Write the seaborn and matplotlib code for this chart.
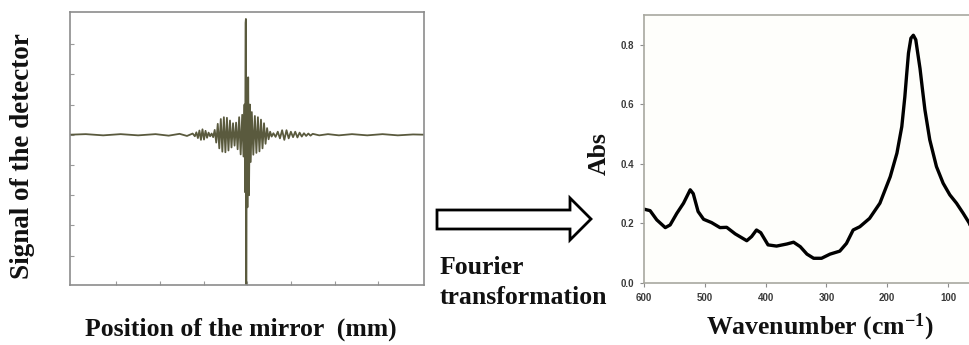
import matplotlib
matplotlib.use("Agg")
import matplotlib.pyplot as plt
from matplotlib.patches import Polygon
import seaborn as sns
import pandas as pd

# ---------------- data ----------------
# Interferogram (left panel): mirror position (arb. units) vs detector signal (arb. units)
mirror_pos = [
    -4.10, -3.70, -3.30, -2.90, -2.50, -2.10, -1.80, -1.55, -1.38, -1.25,
    -1.200, -1.165, -1.130, -1.095, -1.060, -1.025, -0.990, -0.955, -0.920, -0.885, -0.850, -0.815,
    -0.780, -0.745, -0.710, -0.675, -0.640, -0.605, -0.570, -0.535, -0.500, -0.465, -0.430, -0.395,
    -0.360, -0.325, -0.290, -0.255, -0.220, -0.185,
    -0.150, -0.115, -0.085, -0.062, -0.048, -0.038, -0.030, -0.022, -0.010, 0.005, 0.022, 0.040,
    0.060, 0.080, 0.105,
    0.140, 0.175, 0.210, 0.245, 0.280, 0.315, 0.350, 0.385, 0.420, 0.455, 0.490, 0.525, 0.560,
    0.600, 0.650, 0.700, 0.750, 0.800, 0.850, 0.900, 0.950, 1.000, 1.050, 1.100, 1.150, 1.200,
    1.250, 1.300, 1.350, 1.400, 1.450, 1.500,
    1.65, 1.85, 2.10, 2.40, 2.75, 3.10, 3.45, 3.80, 4.10,
]
detector_signal = [
    0.00, 0.02, -0.02, 0.02, -0.02, 0.02, -0.03, 0.03, -0.04, 0.04,
    -0.05, 0.08, -0.11, 0.14, -0.17, 0.18, -0.16, 0.13, -0.10, 0.07, -0.05, 0.04,
    -0.08, 0.16, -0.26, 0.36, -0.45, 0.52, -0.56, 0.58, -0.58, 0.56, -0.52, 0.47,
    -0.42, 0.38, -0.36, 0.40, -0.48, 0.58,
    -0.65, 0.66, -0.72, 1.00, -1.90, 3.70, 3.83, -4.95, 0.90, -2.40, 1.90, -2.00,
    1.00, -0.90, 0.75,
    -0.66, 0.62, -0.60, 0.58, -0.55, 0.50, -0.45, 0.38, -0.30, 0.22, -0.15, 0.10, -0.06,
    0.05, -0.07, 0.10, -0.12, 0.15, -0.17, 0.15, -0.12, 0.10, -0.08, 0.10, -0.09, 0.07,
    -0.06, 0.05, -0.04, 0.04, -0.03, 0.03,
    -0.02, 0.02, -0.02, 0.02, -0.02, 0.02, -0.02, 0.01, 0.00,
]

# Spectrum (right panel): wavenumber (cm-1) vs absorbance
wavenumber = [
    600, 590, 579, 565, 557, 546, 535, 524, 519, 511, 502, 489, 475, 464, 450, 431, 423,
    415, 408, 396, 382, 365, 354, 343, 332, 321, 308, 294, 278, 267, 256, 245, 229, 212,
    195, 184, 176, 171, 168, 165, 161, 157, 153, 150, 146, 142, 138, 130, 119, 108, 97,
    86, 75, 65, 62,
]
absorbance = [
    0.248, 0.243, 0.212, 0.186, 0.195, 0.234, 0.268, 0.313, 0.300, 0.240, 0.214, 0.203, 0.186,
    0.187, 0.165, 0.142, 0.156, 0.178, 0.169, 0.128, 0.124, 0.131, 0.137, 0.122, 0.097, 0.083,
    0.083, 0.097, 0.107, 0.133, 0.178, 0.189, 0.217, 0.268, 0.357, 0.436, 0.525, 0.625, 0.700,
    0.772, 0.822, 0.832, 0.817, 0.775, 0.720, 0.650, 0.582, 0.481, 0.391, 0.335, 0.296, 0.268,
    0.234, 0.201, 0.185,
]

interf = pd.DataFrame({"pos": mirror_pos, "signal": detector_signal})
spec = pd.DataFrame({"wn": wavenumber, "abs": absorbance})

# ---------------- figure ----------------
sns.set_theme(style="white")
plt.rcParams["font.family"] = ["Liberation Serif", "DejaVu Serif"]
plt.rcParams["text.color"] = "#111111"
plt.rcParams["mathtext.fontset"] = "custom"
plt.rcParams["mathtext.rm"] = "Liberation Serif:bold"
plt.rcParams["mathtext.bf"] = "Liberation Serif:bold"
plt.rcParams["mathtext.default"] = "bf"

W, H = 969, 345
fig = plt.figure(figsize=(W / 100, H / 100), dpi=100)
fig.patch.set_facecolor("white")


def fx(px):
    return px / W


def fy(py):
    return 1 - py / H


# Left axes: interferogram
axL = fig.add_axes([fx(70), fy(285), fx(424) - fx(70), fy(12) - fy(285)])
sns.lineplot(data=interf, x="pos", y="signal", ax=axL, color="#5a5a3e",
             linewidth=1.3, estimator=None, sort=False)
axL.set_xlim(-4.06, 4.05)
axL.set_ylim(-4.97, 4.06)
axL.set_xticks([-3, -2, -1, 0, 1, 2, 3])
axL.set_yticks([-4, -3, -2, -1, 0, 1, 2, 3])
axL.set_xticklabels([])
axL.set_yticklabels([])
axL.tick_params(axis="both", direction="in", length=3, width=0.8, colors="#9a9a9a",
                bottom=True, left=True)
axL.set_xlabel("")
axL.set_ylabel("")
for s in axL.spines.values():
    s.set_color("#8c8c8c")
    s.set_linewidth(1.2)
axL.set_facecolor("white")

# Right axes: spectrum (extends slightly beyond the cropped figure edge)
x0, x1 = 644, 644 + 550 * 0.608
axR = fig.add_axes([fx(x0), fy(283), fx(x1) - fx(x0), fy(15) - fy(283)])
sns.lineplot(data=spec, x="wn", y="abs", ax=axR, color="black", linewidth=2.4,
             estimator=None, sort=False)
axR.set_xlim(600, 50)
axR.set_ylim(0, 0.9)
axR.set_xticks([600, 500, 400, 300, 200, 100])
axR.set_xticklabels(["600", "500", "400", "300", "200", "100"])
axR.set_yticks([0.0, 0.2, 0.4, 0.6, 0.8])
axR.set_yticklabels(["0.0", "0.2", "0.4", "0.6", "0.8"])
axR.tick_params(axis="both", direction="out", length=3, width=0.8, colors="#8c8c8c",
                labelcolor="#3a3a3a", labelsize=7, bottom=True, left=True, pad=4)
for lab in axR.get_xticklabels() + axR.get_yticklabels():
    lab.set_family(["Liberation Sans", "DejaVu Sans"])
    lab.set_fontweight("bold")
axR.set_xlabel("")
axR.set_ylabel("")
for s in axR.spines.values():
    s.set_color("#a8a8a0")
    s.set_linewidth(1.2)
axR.set_facecolor("#fefefb")

# Labels
fs = 18.5
fig.text(fx(23), fy(156), "Signal of the detector", rotation=90, ha="center", va="center",
         fontsize=19.5, fontweight="bold")
fig.text(fx(241), fy(329), "Position of the mirror  (mm)", ha="center", va="center",
         fontsize=fs, fontweight="bold")
fig.text(fx(599), fy(154), "Abs", rotation=90, ha="center", va="center",
         fontsize=fs, fontweight="bold")
fig.text(fx(820), fy(327), r"Wavenumber (cm$^{-1}$)", ha="center", va="center",
         fontsize=fs, fontweight="bold")
fig.text(fx(440), fy(267), "Fourier", ha="left", va="center", fontsize=fs, fontweight="bold")
fig.text(fx(440), fy(297), "transformation", ha="left", va="center", fontsize=fs,
         fontweight="bold")

# Hollow arrow
arrow_px = [(437, 210), (570, 210), (570, 198), (591, 219), (570, 240), (570, 229), (437, 229)]
arrow = Polygon([(fx(a), fy(b)) for a, b in arrow_px], closed=True, transform=fig.transFigure,
                facecolor="white", edgecolor="black", linewidth=2.0, joinstyle="miter")
fig.add_artist(arrow)

fig.savefig("out.png", dpi=100)
